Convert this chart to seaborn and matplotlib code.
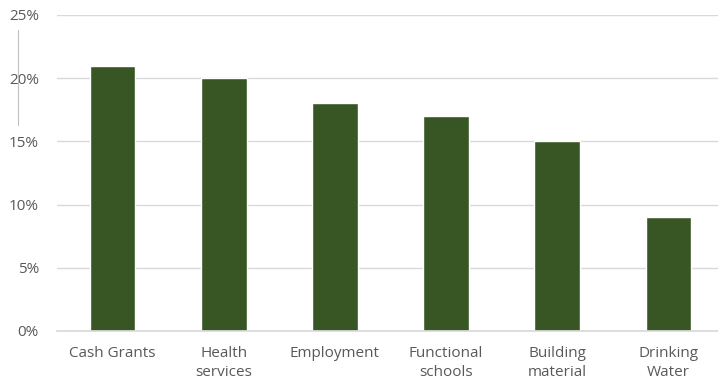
import matplotlib
matplotlib.use("Agg")
import matplotlib.pyplot as plt
import seaborn as sns
import pandas as pd
from matplotlib.ticker import PercentFormatter
from matplotlib.lines import Line2D

categories = ["Cash Grants", "Health\nservices", "Employment", "Functional\nschools", "Building\nmaterial", "Drinking\nWater"]
values = [0.21, 0.20, 0.18, 0.17, 0.15, 0.09]

sns.set_theme(style="white")
plt.rcParams['font.family'] = ['Open Sans', 'DejaVu Sans']

df = pd.DataFrame({"cat": categories, "val": values})

fig = plt.figure(figsize=(7.18, 3.83), dpi=100)
ax = fig.add_axes([57/718, 1-331/383, (724-57)/718, (331-15)/383])
sns.barplot(data=df, x="cat", y="val", color="#375623", width=0.41, ax=ax, saturation=1)
ax.set_ylim(0, 0.25)
ax.set_xlim(-0.5, 5.5)
ax.set_yticks([0, 0.05, 0.10, 0.15, 0.20, 0.25])
ax.yaxis.set_major_formatter(PercentFormatter(1.0, decimals=0))
ax.grid(axis="y", color="#d9d9d9", linewidth=1)
ax.set_axisbelow(True)
for s in ["top", "right", "left"]:
    ax.spines[s].set_visible(False)
ax.spines["bottom"].set_color("#d9d9d9")
ax.set_xlabel("")
ax.set_ylabel("")
ax.tick_params(axis="both", length=0, colors="#595959", labelsize=11)
ax.tick_params(axis="y", pad=13)
ax.tick_params(axis="x", pad=11)
for lab in ax.get_xticklabels():
    lab.set_linespacing(1.35)

fig.add_artist(Line2D([18/718, 18/718], [1-30/383, 1-125/383], color="#bfbfbf", linewidth=0.8, transform=fig.transFigure))

fig.savefig("out.png", dpi=100)
